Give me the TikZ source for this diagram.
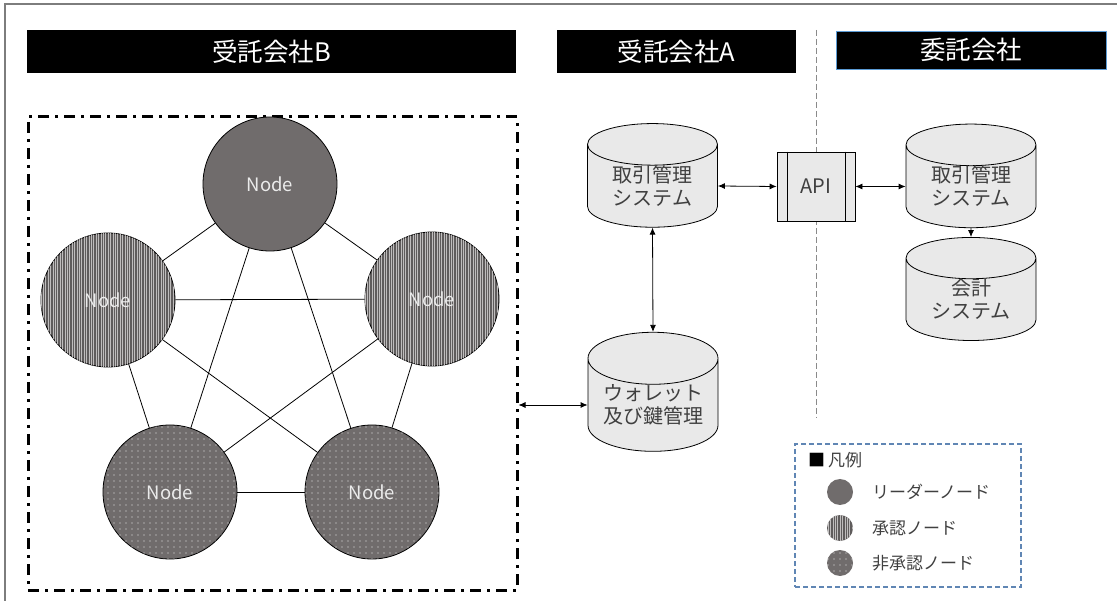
\documentclass[tikz,border=0pt]{standalone}
\usepackage{fontspec}
\setmainfont{Noto Sans CJK JP}
\usetikzlibrary{arrows.meta}
\usetikzlibrary{calc}
\usetikzlibrary{shapes.geometric}
\usetikzlibrary{patterns}
\usetikzlibrary{patterns.meta}
\definecolor{nodegray}{RGB}{112,108,108}
\definecolor{dbgray}{RGB}{233,233,233}
\definecolor{framegray}{RGB}{125,125,125}
\definecolor{legendblue}{RGB}{96,134,180}
\definecolor{headblue}{RGB}{91,155,213}
\definecolor{textgray}{RGB}{64,64,64}
\begin{document}
\begin{tikzpicture}
[x=1pt,y=-1pt,
  headdecorate/.style={fill=black,text=white,inner sep=0pt,
    minimum height=43pt,font=\fontsize{25.5}{29}\selectfont},
  nodedecorate/.style={shape=circle,draw,line width=0.8pt,fill=nodegray,
    minimum size=134pt,inner sep=0pt,text=white!92!black,
    font=\fontsize{18.5}{20}\selectfont},
  leaderdecorate/.style={nodedecorate},
  approvedecorate/.style={nodedecorate,fill=nodegray!85!black,postaction={pattern={Lines[angle=90,distance=2.4pt,line width=0.4pt]},pattern color=white!55!nodegray}},
  pendingdecorate/.style={nodedecorate,postaction={pattern={Dots[distance=6pt,radius=0.55pt]},pattern color=white!85!gray}},
  linedecorate/.style={-,line width=0.8pt},
  dbdecorate/.style={shape=cylinder,shape border rotate=90,aspect=0.52,draw,
    line width=0.8pt,fill=dbgray,minimum width=130pt,minimum height=98pt,
    inner sep=0pt,align=center,text=textgray,font=\fontsize{20}{23}\selectfont},
  arrowdecorate/.style={{Latex[length=7pt,width=6pt]}-{Latex[length=7pt,width=6pt]},line width=0.8pt},
  legendtext/.style={anchor=west,inner sep=0pt,text=textgray,font=\fontsize{17}{19}\selectfont}]
\useasboundingbox (0,0) rectangle (1117,601);
%% outer frame
\draw[framegray,line width=1.2pt] (5,601) -- (5,4) -- (1117,4);
%% headers
\foreach \nodename/\x/\w/\label in {headB/271.5/489/受託会社B, headA/676.5/239/受託会社A}
{
  \node (\nodename) at (\x,51.5) [headdecorate,minimum width=\w pt] {\label};
}
\node (headC) at (971,50) [headdecorate,minimum width=270pt,minimum height=38pt,
  draw=headblue,line width=0.8pt] {委託会社};
%% divider
\coordinate (divtop) at (816,30);
\coordinate (divbot) at (816,418);
\draw[framegray!90,dashed,line width=1pt,dash pattern=on 6pt off 3pt] (divtop) -- (divbot);
%% zone of company B
\node (zoneB) at (272.5,353.5) [draw,line width=3pt,minimum width=489pt,minimum height=473pt,
  dash pattern=on 11pt off 6pt on 3pt off 6pt] {};
%% nodes or vertices
\foreach \nodename/\x/\y/\kind in {leader/270/184/leaderdecorate,
  apprL/108/300/approvedecorate, apprR/432/299/approvedecorate,
  pendL/170/492/pendingdecorate, pendR/372/492/pendingdecorate}
{
  \node (\nodename) at (\x,\y) [\kind] {Node};
}
%% edges or lines
\path
\foreach \startnode/\endnode in {leader/apprL, leader/apprR, leader/pendL, leader/pendR,
  apprL/apprR, apprL/pendL, apprL/pendR, apprR/pendL, apprR/pendR, pendL/pendR}
{
  (\startnode) edge[linedecorate] (\endnode)
};
%% systems
\node (tradeA) at (652.5,186) [dbdecorate] {取引管理\\システム};
\node (wallet) at (653,405) [dbdecorate] {ウォレット\\及び鍵管理};
\node (tradeC) at (971,186.5) [dbdecorate] {取引管理\\システム};
\node (account) at (971,299.5) [dbdecorate,minimum height=97pt] {会計\\システム};
\node (api) at (816,186.5) [draw,line width=0.8pt,fill=dbgray,minimum width=78pt,
  minimum height=69pt,inner sep=0pt,text=textgray,font=\fontsize{20}{23}\selectfont] {API};
\draw[line width=0.8pt] ($(api.north west)+(11,0)$) -- ($(api.south west)+(11,0)$);
\draw[line width=0.8pt] ($(api.north east)+(-10,0)$) -- ($(api.south east)+(-10,0)$);
%% connectors
\draw[arrowdecorate] (tradeA.east) -- (api.west);
\draw[arrowdecorate] (api.east) -- (tradeC.west);
\draw[-{Latex[length=7pt,width=6pt]},line width=0.8pt] (tradeC.south) -- (account.north);
\draw[arrowdecorate] (tradeA.south) -- (wallet.north);
\draw[arrowdecorate] (wallet.west -| zoneB.east) -- (wallet.west);
%% legend
\node (legend) at (908,515.5) [draw=legendblue,line width=1.2pt,dashed,
  dash pattern=on 5pt off 3pt,minimum width=226pt,minimum height=143pt] {};
\node (legtitle) at (808,460) [legendtext,text=black] {■\,\textcolor{textgray}{凡例}};
\foreach \nodename/\y/\kind/\label in {legLeader/492/leaderdecorate/リーダーノード,
  legAppr/528/approvedecorate/承認ノード, legPend/563/pendingdecorate/非承認ノード}
{
  \node (\nodename) at (840,\y) [\kind,minimum size=26pt,line width=0pt,draw=none] {};
  \node at (872,\y) [legendtext] {\label};
}
\end{tikzpicture}
\end{document}
